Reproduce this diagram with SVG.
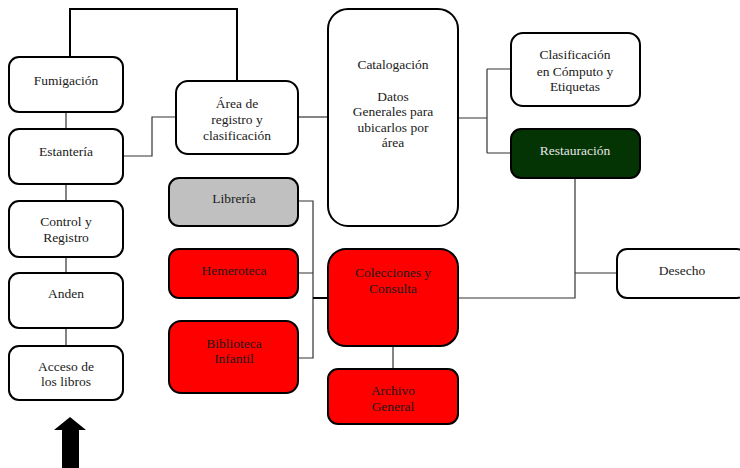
<svg xmlns="http://www.w3.org/2000/svg" width="740" height="468" viewBox="0 0 740 468">
<style>
.box{stroke:#000;stroke-width:2;fill:#fff}
.red{fill:#ff0000}
.gray{fill:#c0c0c0}
.green{fill:#043304}
text{font-family:'Liberation Serif','Times New Roman',Times,'DejaVu Serif',serif;font-size:13.5px;fill:#1a1a1a;text-anchor:middle}
.lt{fill:#e6e6e6}
.thin{fill:none;stroke:#333;stroke-width:1.2}
.thick{fill:none;stroke:#000;stroke-width:2}
</style>
<rect width="740" height="468" fill="#fff"/>
<g id="connectors">
<path class="thick" d="M70 57V9H237V81"/>
<path class="thin" d="M66 112V129M66 184V201M66 257V273M66 328V346"/>
<path class="thin" d="M123 156H152V117H176"/>
<path class="thin" d="M298 117H328"/>
<path class="thin" d="M458 118H487M487 69V153M487 69H511M487 153H511"/>
<path class="thin" d="M575 178V298H458M575 273H617"/>
<path class="thin" d="M298 201H313V358H298M298 273H313"/>
<path class="thick" d="M313 298H328"/>
<path class="thin" d="M393 346V369"/>
<path d="M62 468V430H54L70 417L86 430H79V468Z" fill="#000"/>
</g>
<g font-family="Liberation Serif, Times New Roman, serif">
<g id="fumigacion"><rect class="box" x="9" y="57" width="114" height="55" rx="10"/><text x="66" y="84.5">Fumigación</text></g>
<g id="estanteria"><rect class="box" x="9" y="129" width="114" height="55" rx="10"/><text x="66" y="155.5">Estantería</text></g>
<g id="control"><rect class="box" x="9" y="201" width="114" height="56" rx="10"/><text x="66" y="225.5">Control y</text><text x="66" y="241.5">Registro</text></g>
<g id="anden"><rect class="box" x="9" y="273" width="114" height="55" rx="10"/><text x="66" y="297.5">Anden</text></g>
<g id="acceso"><rect class="box" x="9" y="346" width="114" height="54" rx="10"/><text x="66" y="370.5">Acceso de</text><text x="66" y="385.5">los libros</text></g>
<g id="area"><rect class="box" x="176" y="81" width="122" height="73" rx="12"/><text x="237" y="107.5">Área de</text><text x="237" y="123.5">registro y</text><text x="237" y="139.5">clasificación</text></g>
<g id="libreria"><rect class="box gray" x="169" y="178" width="129" height="48" rx="10"/><text x="234" y="202.5">Librería</text></g>
<g id="hemeroteca"><rect class="box red" x="169" y="249" width="129" height="49" rx="10"/><text x="234" y="274.5">Hemeroteca</text></g>
<g id="biblioteca"><rect class="box red" x="169" y="321" width="129" height="72" rx="12"/><text x="234" y="347.5">Biblioteca</text><text x="234" y="362.5">Infantil</text></g>
<g id="catalogacion"><rect class="box" x="328" y="9" width="130" height="217" rx="20"/><text x="393" y="68.5">Catalogación</text><text x="393" y="100.5">Datos</text><text x="393" y="115.5">Generales para</text><text x="393" y="131.5">ubicarlos por</text><text x="393" y="146.5">área</text></g>
<g id="colecciones"><rect class="box red" x="328" y="249" width="130" height="97" rx="18"/><text x="393" y="276.5">Colecciones y</text><text x="393" y="292.5">Consulta</text></g>
<g id="archivo"><rect class="box red" x="328" y="369" width="130" height="55" rx="10"/><text x="393" y="394.5">Archivo</text><text x="393" y="410.5">General</text></g>
<g id="clasificacion"><rect class="box" x="511" y="33" width="129" height="73" rx="12"/><text x="575" y="58.5">Clasificación</text><text x="575" y="75.5">en Cómputo y</text><text x="575" y="90.5">Etiquetas</text></g>
<g id="restauracion"><rect class="box green" x="511" y="129" width="129" height="49" rx="10"/><text class="lt" x="575" y="154.5">Restauración</text></g>
<g id="desecho"><rect class="box" x="617" y="249" width="130" height="49" rx="10"/><text x="682" y="274.5">Desecho</text></g>
</g>
</svg>
